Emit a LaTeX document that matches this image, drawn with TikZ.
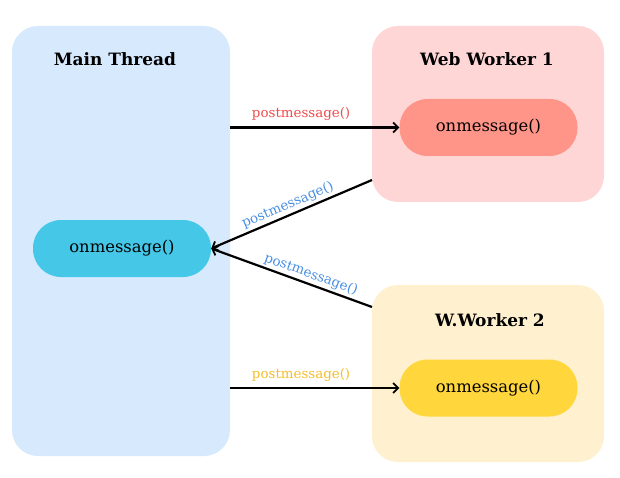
\documentclass[tikz,border=0pt]{standalone}
\usepackage{fontspec}
\setmainfont{DejaVu Serif}
\usetikzlibrary{arrows.meta}
\definecolor{mainbg}{HTML}{D6E9FD}
\definecolor{wabg}{HTML}{FFD6D6}
\definecolor{wbbg}{HTML}{FFF1CF}
\definecolor{mainpill}{HTML}{45C8E8}
\definecolor{wapill}{HTML}{FF9588}
\definecolor{wbpill}{HTML}{FFD73D}
\definecolor{redtxt}{HTML}{F04C4C}
\definecolor{bluetxt}{HTML}{4A90E2}
\definecolor{yeltxt}{HTML}{F5BE2A}
\tikzset{
  panel/.style={rounded corners=26pt, draw=none},
  pill/.style={rounded corners=28pt, draw=none, minimum width=178pt, minimum height=57pt, inner sep=0pt, font=\fontsize{16.4}{19}\selectfont},
  ttl/.style={font=\fontsize{17}{20}\selectfont\bfseries},
  msg/.style={font=\fontsize{13.4}{16}\selectfont, inner sep=2pt},
  conn/.style={line width=2.2pt, -{Straight Barb[length=5pt,width=10pt,line width=1.8pt]}}
}
\begin{document}
\begin{tikzpicture}[x=1pt,y=-1pt]
\useasboundingbox (0,0) rectangle (620,478);
\fill[white] (0,0) rectangle (620,478);
\fill[mainbg,panel] (12,26) rectangle (230,456);
\fill[wabg,panel] (372,26) rectangle (604,202);
\fill[wbbg,panel] (372,285) rectangle (604,462);
\node[ttl] (tmain) at (115,59) {Main Thread};
\node[ttl] (twa) at (487,59) {Web Worker 1};
\node[ttl] (twb) at (490,320) {W.Worker 2};
\node[pill, fill=mainpill] (pm) at (122,248.5) {onmessage()};
\node[pill, fill=wapill] (pa) at (488.5,127.5) {onmessage()};
\node[pill, fill=wbpill] (pb) at (488.5,388) {onmessage()};
\coordinate (s1) at (230,127.5);
\coordinate (s2) at (230,388);
\coordinate (a1) at (372,180);
\coordinate (b1) at (372,307);
\draw[conn] (s1) -- node[msg, above, text=redtxt, yshift=4pt, pos=0.42] {postmessage()} (pa.west);
\draw[conn] (s2) -- node[msg, above, text=yeltxt, yshift=3pt, pos=0.42] {postmessage()} (pb.west);
\draw[conn] (a1) -- node[msg, above, sloped, text=bluetxt, pos=0.5] {postmessage()} (pm.east);
\draw[conn] (b1) -- node[msg, above, sloped, text=bluetxt, pos=0.4] {postmessage()} (pm.east);
\end{tikzpicture}
\end{document}
